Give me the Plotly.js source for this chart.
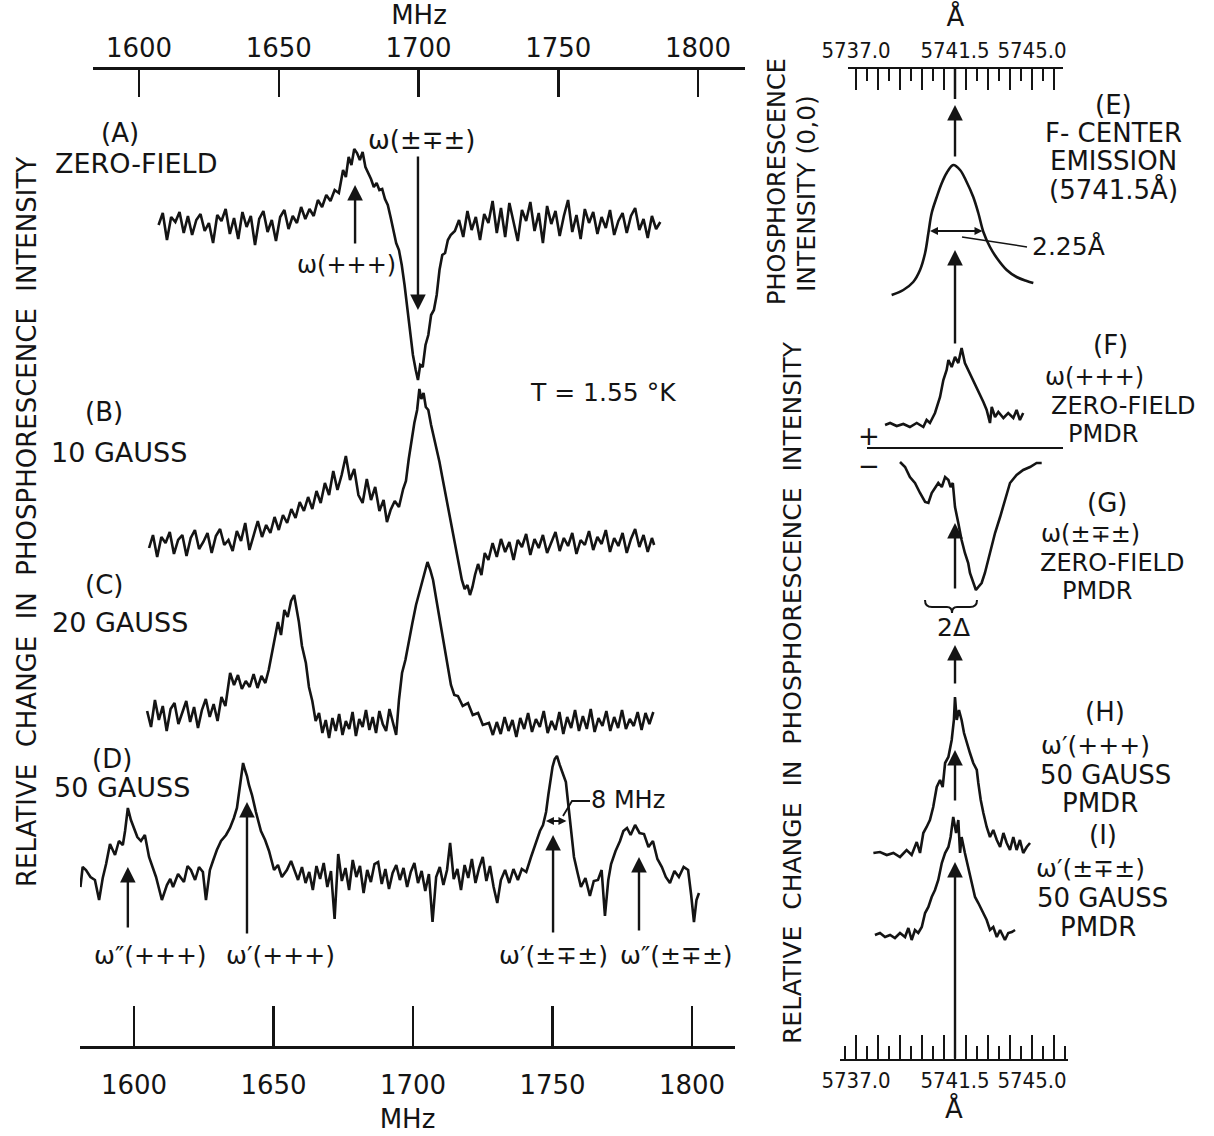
<!DOCTYPE html>
<html><head><meta charset="utf-8">
<script src="https://cdn.plot.ly/plotly-3.0.1.min.js"></script>
<style>html,body{margin:0;padding:0;background:#fff}#chart{width:1214px;height:1136px}</style>
</head><body><div id="chart"></div>
<script>
// ---------------- DATA ----------------
// Left panel: frequency in MHz, relative change in phosphorescence intensity (arbitrary units, + = increase)
const mhzTicks = [1600, 1650, 1700, 1750, 1800];
const mhzTickText = ['1600', '1650', '1700', '1750', '1800'];

// (A) zero field
const aMHz = [1607.0,1608.5,1610.0,1611.5,1613.0,1614.5,1616.0,1617.5,1619.0,1620.5,
  1622.0,1623.5,1625.0,1626.5,1628.0,1629.5,1631.0,1632.5,1634.0,1635.5,
  1637.0,1638.5,1640.0,1641.5,1643.0,1644.5,1646.0,1647.5,1649.0,1650.5,
  1652.0,1653.5,1655.0,1656.5,1658.0,1659.5,1661.0,1662.5,1664.0,1665.5,
  1667.0,1668.5,1670.0,1671.5,1673.0,1674.0,1675.0,1676.0,1677.0,1678.0,
  1679.0,1680.0,1681.0,1682.0,1683.0,1684.0,1685.0,1686.0,1687.0,1688.0,
  1689.0,1690.0,1691.0,1692.0,1693.0,1694.0,1695.0,1696.0,1697.0,1698.0,
  1699.0,1699.8,1700.6,1701.5,1702.5,1703.5,1704.5,1705.5,1706.5,1707.5,
  1708.5,1709.5,1710.5,1711.5,1713.0,1714.5,1716.0,1717.5,1719.0,1720.5,
  1722.0,1723.5,1725.0,1726.5,1728.0,1729.5,1731.0,1732.5,1734.0,1735.5,
  1737.0,1738.5,1740.0,1741.5,1743.0,1744.5,1746.0,1747.5,1749.0,1750.5,
  1752.0,1753.5,1755.0,1756.5,1758.0,1759.5,1761.0,1762.5,1764.0,1765.5,
  1767.0,1768.5,1770.0,1771.5,1773.0,1774.5,1776.0,1777.5,1779.0,1780.5,
  1782.0,1783.5,1785.0,1786.5];
const aVal = [0.0,1.2,-1.5,0.8,0.3,1.3,-0.8,0.9,-1.0,0.5,
  1.1,-0.6,0.2,-1.8,1.0,0.4,1.6,-0.9,0.7,-1.4,
  1.3,-0.2,0.9,-2.0,0.6,1.4,-0.7,0.5,-1.6,0.8,
  1.5,-0.4,0.9,0.2,1.8,0.6,1.6,0.9,2.5,1.8,
  3.0,2.4,3.5,3.2,5.5,4.8,6.8,6.0,7.6,7.2,
  6.5,7.3,5.8,5.2,4.6,3.8,4.2,3.5,3.6,2.6,
  2.0,0.8,-0.5,-1.8,-2.5,-4.0,-6.0,-8.5,-11.0,-13.0,
  -14.5,-15.5,-14.0,-14.2,-12.0,-11.0,-9.0,-8.5,-7.0,-4.5,
  -3.0,-2.8,-1.5,-1.0,-0.6,0.5,-1.2,1.4,-0.5,0.8,
  -1.5,1.1,0.2,2.4,-0.8,1.7,-1.2,2.2,0.3,-1.6,
  1.5,0.4,2.3,-0.6,1.2,-1.8,1.9,0.1,1.4,-1.1,
  0.9,2.5,-0.7,1.0,-1.4,1.6,0.2,1.3,-0.9,0.8,
  -0.3,1.5,-1.0,0.4,1.2,-0.8,0.9,1.7,-0.5,0.6,
  -1.3,0.9,-0.4,0.3];

// (B) 10 gauss
const bMHz = [1603.6,1605.0,1606.5,1608.0,1609.5,1611.0,1612.5,1614.0,1615.5,1617.0,
  1618.5,1620.0,1621.5,1623.0,1624.5,1626.0,1627.5,1629.0,1630.5,1632.0,
  1633.5,1635.0,1636.5,1638.0,1639.5,1641.0,1642.5,1644.0,1645.5,1647.0,
  1648.5,1650.0,1651.5,1653.0,1654.5,1656.0,1657.5,1659.0,1660.5,1662.0,
  1663.5,1665.0,1666.5,1668.0,1669.5,1671.0,1672.5,1674.0,1675.5,1677.0,
  1678.5,1680.0,1681.5,1683.0,1684.5,1686.0,1687.5,1688.7,1690.0,1691.5,
  1693.0,1694.5,1695.5,1696.5,1697.5,1698.5,1699.5,1700.3,1701.0,1701.8,
  1702.6,1703.5,1704.5,1705.5,1706.5,1707.5,1708.5,1709.5,1710.5,1711.5,
  1712.5,1713.5,1714.5,1715.5,1716.5,1717.5,1718.4,1719.3,1720.2,1721.3,
  1722.5,1723.7,1725.0,1726.5,1728.0,1729.5,1731.0,1732.5,1734.0,1735.5,
  1737.0,1738.5,1740.0,1741.5,1743.0,1744.5,1746.0,1747.5,1749.0,1750.5,
  1752.0,1753.5,1755.0,1756.5,1758.0,1759.5,1761.0,1762.5,1764.0,1765.5,
  1767.0,1768.5,1770.0,1771.5,1773.0,1774.5,1776.0,1777.5,1779.0,1780.5,
  1782.0,1783.5,1784.3];
const bVal = [-0.3,1.0,-1.2,0.8,0.2,1.3,-0.9,0.5,1.0,-1.1,
  0.7,1.5,-0.4,0.3,1.2,-0.8,0.9,1.6,0.0,0.5,
  -0.6,1.4,0.4,2.2,-0.5,1.0,2.4,0.8,2.0,1.2,
  2.8,1.5,3.0,2.2,3.6,2.7,4.3,3.4,4.8,3.6,
  5.4,4.2,6.2,5.0,7.4,5.5,7.0,8.9,6.5,7.6,
  5.0,4.2,6.6,4.5,5.8,3.4,4.5,2.3,3.5,4.4,
  3.8,5.6,6.4,8.6,10.5,12.2,13.5,15.6,14.6,15.2,
  13.8,13.5,12.0,10.8,9.5,8.3,6.8,5.3,3.8,2.3,
  0.8,-0.8,-2.2,-3.5,-4.4,-4.0,-5.0,-4.2,-3.0,-1.9,
  -3.0,-0.8,-1.5,0.2,-1.2,0.6,-0.7,0.3,-1.5,0.5,
  -0.2,1.1,-1.0,0.6,-0.3,1.0,-0.8,0.3,1.3,-0.6,
  0.7,-0.1,1.2,-0.9,0.5,0.0,1.4,-0.5,0.8,0.1,
  1.5,-0.7,0.7,-0.1,1.2,-0.8,0.6,1.6,-0.2,1.0,
  -0.7,0.7,0.0];

// (C) 20 gauss
const cMHz = [1602.9,1604.3,1605.7,1607.1,1608.5,1609.9,1611.3,1612.7,1614.1,1615.5,
  1616.9,1618.3,1619.7,1621.1,1622.5,1623.9,1625.3,1626.7,1628.1,1629.5,
  1630.9,1632.6,1634.0,1635.4,1636.8,1638.2,1639.6,1641.0,1642.4,1643.8,
  1645.2,1646.4,1647.4,1648.5,1649.7,1650.8,1652.0,1653.2,1654.4,1655.5,
  1656.4,1657.2,1658.3,1659.7,1660.8,1662.0,1663.2,1664.4,1665.6,1666.8,
  1668.0,1669.2,1670.4,1671.6,1672.8,1674.0,1675.2,1676.4,1677.6,1678.8,
  1680.0,1681.2,1682.4,1683.6,1684.8,1686.0,1687.2,1688.4,1689.6,1690.8,
  1692.0,1693.0,1694.1,1695.3,1696.6,1697.8,1699.1,1700.3,1701.6,1702.5,
  1703.2,1704.2,1705.2,1706.4,1707.7,1708.8,1709.8,1710.8,1711.6,1712.8,
  1714.1,1715.8,1717.7,1719.4,1721.3,1723.0,1725.2,1726.6,1728.0,1729.4,
  1730.8,1732.2,1733.6,1735.0,1736.4,1737.8,1739.2,1740.6,1742.0,1743.4,
  1744.8,1746.2,1747.6,1749.0,1750.4,1751.8,1753.2,1754.6,1756.0,1757.4,
  1758.8,1760.2,1761.6,1763.0,1764.4,1765.8,1767.2,1768.6,1770.0,1771.4,
  1772.8,1774.2,1775.6,1777.0,1778.4,1779.8,1781.2,1782.6,1784.0];
const cVal = [0.4,-1.2,1.5,-0.5,0.9,-1.6,0.6,1.2,-0.9,0.3,
  1.4,-0.7,0.8,-1.3,0.5,1.6,-0.2,1.1,-0.6,1.8,
  0.9,4.2,3.0,4.0,2.6,3.4,2.8,4.1,2.7,3.9,
  3.2,4.5,5.9,7.8,9.3,8.0,10.5,9.8,11.4,12.0,
  10.5,9.3,6.9,5.2,2.8,1.4,-0.6,0.2,-1.8,-0.5,
  -2.3,-0.3,-1.6,0.1,-2.0,-0.6,-1.4,0.3,-2.1,-0.4,
  -1.2,0.5,-1.5,-0.2,-1.8,0.4,-0.9,-1.6,0.6,-0.8,
  -2.0,1.5,4.2,5.5,7.6,9.2,11.0,12.3,13.8,14.8,
  15.3,14.5,13.5,11.5,9.4,7.6,5.7,4.0,3.0,2.0,
  1.9,0.9,1.2,0.0,0.2,-1.0,-0.8,-2.0,-0.7,-1.9,
  -0.2,-1.6,-0.5,-2.2,-0.3,-1.4,0.2,-1.7,-0.4,-1.2,
  0.4,-1.8,-0.6,-1.5,0.3,-1.9,-0.2,-1.3,0.5,-1.6,
  -0.1,-1.4,0.6,-1.7,-0.3,-1.1,0.4,-1.6,-0.2,-1.3,
  0.5,-1.4,-0.4,-1.1,0.3,-1.5,0.2,-0.9,0.3];

// (D) 50 gauss (read on the lower MHz scale)
const dMHz = [1580.8,1581.6,1582.8,1584.4,1586.0,1587.5,1588.8,1590.0,1591.4,1593.2,
  1594.6,1596.0,1596.8,1597.8,1598.9,1600.0,1601.2,1602.5,1603.9,1605.4,
  1606.6,1607.9,1609.0,1610.0,1611.8,1613.0,1614.0,1615.8,1617.9,1619.2,
  1620.4,1621.9,1623.3,1624.7,1625.8,1627.2,1628.3,1629.7,1631.2,1633.0,
  1634.4,1635.8,1636.9,1638.0,1639.1,1639.8,1640.5,1641.2,1642.3,1643.7,
  1645.5,1647.0,1648.4,1650.2,1651.6,1653.0,1654.8,1656.3,1657.7,1658.8,
  1660.2,1661.5,1662.8,1664.1,1665.4,1666.7,1668.0,1669.3,1670.6,1671.9,
  1673.2,1674.5,1675.8,1677.1,1678.4,1679.7,1681.0,1682.3,1683.6,1684.9,
  1686.2,1687.5,1688.8,1690.1,1691.4,1692.7,1694.0,1695.3,1696.6,1697.9,
  1699.2,1700.5,1701.8,1703.1,1704.4,1705.7,1707.0,1708.3,1709.6,1710.9,
  1712.2,1713.3,1714.6,1715.9,1717.2,1718.5,1719.8,1721.1,1722.4,1723.7,
  1725.0,1726.3,1727.6,1728.9,1730.2,1731.5,1733.0,1734.5,1736.0,1737.6,
  1739.0,1740.6,1742.3,1743.8,1745.5,1746.6,1747.7,1748.5,1749.1,1750.0,
  1750.8,1751.6,1752.6,1753.7,1754.8,1755.6,1756.3,1757.0,1757.7,1759.0,
  1760.2,1761.8,1763.4,1764.8,1766.3,1767.6,1768.8,1770.0,1771.0,1772.6,
  1774.2,1775.4,1776.7,1778.0,1779.6,1781.2,1782.8,1784.4,1786.0,1787.6,
  1789.2,1790.6,1792.1,1793.7,1795.3,1797.0,1798.6,1799.7,1800.7,1801.6,
  1802.5];
const dVal = [-1.2,0.8,0.5,-0.2,-0.5,-2.5,-0.3,1.1,3.1,2.0,
  3.4,3.0,4.4,6.7,5.5,4.7,3.8,3.4,4.0,1.8,
  0.8,-0.2,-1.4,-2.5,-1.0,-0.4,-1.2,0.1,-0.7,0.9,
  0.5,-0.5,0.8,0.3,-2.5,0.5,1.4,2.5,3.4,4.0,
  4.7,5.7,6.7,9.0,11.2,10.5,9.9,9.0,8.0,6.3,
  4.4,3.5,2.4,0.5,1.0,-0.2,0.5,1.4,0.3,-0.5,
  0.8,-0.8,0.3,-1.5,0.9,-0.4,1.2,-1.2,0.4,-4.4,
  2.1,-0.6,0.7,-1.5,1.5,-0.2,0.9,-1.8,0.5,-0.7,
  1.1,1.3,-0.9,0.6,-1.4,0.2,1.0,-0.5,0.7,-1.2,
  0.3,1.2,-0.8,0.4,-1.6,0.1,-4.7,-0.2,0.8,-1.0,
  0.5,3.2,-0.4,0.6,-1.5,1.0,-0.3,1.6,-0.8,0.7,
  1.8,-0.6,0.9,-1.2,-2.8,-0.5,0.5,-0.8,0.6,-0.5,
  0.6,0.3,1.8,3.0,4.4,5.0,6.3,8.0,9.3,10.8,
  11.6,11.9,11.0,10.2,9.3,7.2,5.4,3.5,1.8,0.2,
  -1.2,-0.3,-2.1,-0.6,-0.5,0.5,-4.1,-0.5,1.1,2.4,
  3.4,4.4,4.7,4.0,5.0,4.2,4.1,2.8,3.4,1.6,
  0.8,-0.2,-0.8,0.4,-0.2,0.8,0.5,-2.0,-4.7,-2.5,
  -1.8];

// Right panel: wavelength in Å
const angTickVals = [5737.0, 5741.5, 5745.0];
const angTickText = ['5737.0', '5741.5', '5745.0'];

// (E) F-center emission (0,0) line
const eAng = [5738.62,5739.15,5739.60,5739.91,5740.14,5740.29,5740.44,5740.67,5740.90,5741.12,5741.42,
  5741.73,5742.03,5742.33,5742.56,5742.79,5743.09,5743.40,5743.85,5744.30,5744.76,5745.06];
const eVal = [0.5,1.0,1.8,3.0,4.7,6.7,8.7,10.3,11.7,12.7,13.5,
  13.0,11.8,10.3,8.7,6.8,5.3,4.2,3.0,2.3,1.9,1.7];

// (F) w(+++) zero-field PMDR
const fAng = [5738.32,5738.55,5738.85,5739.15,5739.45,5739.76,5740.06,5740.21,5740.36,5740.59,
  5740.82,5740.97,5741.12,5741.20,5741.35,5741.50,5741.65,5741.80,5741.95,5742.10,
  5742.33,5742.56,5742.79,5742.94,5743.09,5743.17,5743.32,5743.47,5743.70,5743.92,
  5744.15,5744.30,5744.45,5744.60];
const fVal = [0.0,0.2,-0.1,0.1,-0.2,0.2,-0.2,0.5,0.2,1.2,
  2.8,4.5,5.5,6.5,5.8,6.8,6.2,7.7,6.2,5.5,
  4.5,3.5,2.3,1.5,0.2,1.8,0.8,1.3,0.7,1.2,
  0.7,1.5,0.5,1.2];

// (G) w(±∓±) zero-field PMDR
const gAng = [5739.00,5739.23,5739.45,5739.68,5739.91,5740.14,5740.29,5740.44,5740.59,5740.74,
  5740.90,5741.05,5741.20,5741.30,5741.40,5741.50,5741.65,5741.80,5741.95,5742.10,
  5742.18,5742.33,5742.45,5742.56,5742.71,5742.86,5743.09,5743.32,5743.55,5743.77,
  5744.00,5744.30,5744.60,5744.91,5745.21,5745.44];
const gVal = [-0.2,-0.7,-1.7,-2.3,-3.3,-4.2,-4.3,-3.3,-2.8,-2.3,
  -2.7,-1.7,-2.0,-2.7,-2.3,-4.7,-6.3,-8.0,-9.3,-10.3,
  -11.3,-12.3,-13.0,-12.7,-12.3,-11.3,-9.3,-7.3,-5.7,-4.0,
  -2.3,-1.5,-1.0,-0.7,-0.3,-0.3];

// (H) w'(+++) 50 gauss PMDR
const hAng = [5737.79,5738.09,5738.40,5738.70,5739.00,5739.30,5739.53,5739.76,5739.91,5740.06,
  5740.21,5740.36,5740.51,5740.67,5740.82,5740.94,5741.05,5741.20,5741.35,5741.45,
  5741.50,5741.58,5741.68,5741.80,5741.91,5742.03,5742.18,5742.33,5742.49,5742.56,
  5742.67,5742.79,5742.94,5743.09,5743.24,5743.40,5743.55,5743.70,5743.85,5744.00,
  5744.15,5744.30,5744.45,5744.60,5744.76,5744.91];
const hVal = [0.0,0.1,-0.2,0.0,-0.4,0.3,-0.2,1.1,0.0,2.0,
  2.6,3.3,4.6,6.6,7.3,6.6,9.0,9.6,11.3,13.3,
  15.6,13.3,14.3,13.3,12.0,11.0,10.0,9.0,8.3,7.0,
  5.3,4.0,2.6,1.6,2.3,1.3,0.6,2.0,1.0,0.3,
  1.6,0.3,1.3,0.0,0.6,1.0];

// (I) w'(±∓±) 50 gauss PMDR
const iAng = [5737.86,5738.09,5738.32,5738.55,5738.77,5739.00,5739.23,5739.38,5739.53,5739.68,
  5739.83,5739.99,5740.14,5740.29,5740.44,5740.59,5740.74,5740.90,5741.05,5741.20,
  5741.30,5741.42,5741.55,5741.65,5741.73,5741.80,5741.95,5742.10,5742.26,5742.41,
  5742.56,5742.71,5742.94,5743.09,5743.24,5743.40,5743.55,5743.77,5743.92,5744.08,
  5744.23];
const iVal = [0.0,0.2,-0.2,0.0,-0.3,0.2,-0.2,0.7,-0.5,0.5,
  0.2,0.8,2.2,2.8,3.8,4.5,5.5,7.2,8.2,8.8,
  9.8,11.8,10.2,11.5,8.2,9.8,8.2,6.8,5.2,3.8,
  3.2,2.5,1.5,0.5,0.8,-0.2,0.5,-0.5,0.2,0.3,
  0.5];

// ---------------- LAYOUT HELPERS ----------------
const W = 1214, H = 1136;
const FONT = 'DejaVu Sans, Liberation Sans, sans-serif';
const FONT_C = 'DejaVu Sans Condensed, DejaVu Sans, sans-serif';
const INK = '#141414';
const px = v => v / W;            // page column -> paper fraction
const py = v => 1 - v / H;        // page row -> paper fraction
const row = v => -v / 10;         // page row -> y units of the shared hidden y axis

function trace(x, vals, baseRow, xa, shape) {
  return {
    type: 'scatter', mode: 'lines', x: x,
    y: vals.map(v => row(baseRow) + v),
    xaxis: xa, yaxis: 'y',
    line: { color: INK, width: 2.6, shape: shape || 'linear' },
    hoverinfo: 'skip', showlegend: false
  };
}

const data = [
  trace(aMHz, aVal, 225, 'x'),
  trace(bMHz, bVal, 545, 'x'),
  trace(cMHz, cVal, 715, 'x'),
  trace(dMHz, dVal, 875, 'x2'),
  trace(eAng, eVal, 300, 'x4', 'spline'),
  trace(fAng, fVal, 425, 'x3'),
  trace(gAng, gVal, 460, 'x3'),
  trace(hAng, hVal, 853, 'x6'),
  trace(iAng, iVal, 935, 'x5')
];

function txt(t, x, y, size, extra) {
  return Object.assign({ text: t, x: px(x), y: py(y), xref: 'paper', yref: 'paper',
    showarrow: false, xanchor: 'center', yanchor: 'middle',
    font: { family: FONT, size: size || 26, color: INK } }, extra || {});
}
function arrow(xa, xv, headRow, tailRow, extra) {
  return Object.assign({ text: '', x: xv, y: row(headRow), xref: xa, yref: 'y',
    ax: 0, ay: tailRow - headRow, axref: 'pixel', ayref: 'pixel',
    showarrow: true, arrowhead: 2, arrowsize: 1.3, arrowwidth: 2.4, arrowcolor: INK,
    standoff: 0, startstandoff: 0 }, extra || {});
}

const annotations = [
  // left panel labels
  txt('RELATIVE  CHANGE  IN  PHOSPHORESCENCE  INTENSITY', 27, 522, 26, { textangle: -90 }),
  txt('(A)', 120, 133), txt('ZERO-FIELD', 136, 163, 27),
  txt('ω(±∓±)', 421, 140, 26),
  txt('ω(+++)', 346, 265, 24),
  txt('T = 1.55 °K', 603, 392, 25),
  txt('(B)', 104, 412), txt('10 GAUSS', 119, 452, 27),
  txt('(C)', 104, 585), txt('20 GAUSS', 120, 622, 27),
  txt('(D)', 112, 759), txt('50 GAUSS', 122, 787, 27),
  txt('8 MHz', 628, 800, 24),
  txt('ω″(+++)', 150, 955, 25), txt('ω′(+++)', 280, 955, 25),
  txt('ω′(±∓±)', 553, 955, 25), txt('ω″(±∓±)', 676, 955, 25),
  // right panel labels
  txt('PHOSPHORESCENCE', 777, 182, 24, { textangle: -90 }),
  txt('INTENSITY (0,0)', 806, 194, 25, { textangle: -90 }),
  txt('RELATIVE  CHANGE  IN  PHOSPHORESCENCE  INTENSITY', 792, 692, 25, { textangle: -90 }),
  txt('(E)', 1113, 105), txt('F- CENTER', 1113, 133), txt('EMISSION', 1113, 161), txt('(5741.5Å)', 1113, 190),
  txt('2.25Å', 1068, 246, 25),
  txt('(F)', 1110, 345), txt('ω(+++)', 1094, 377, 24), txt('ZERO-FIELD', 1123, 406, 24), txt('PMDR', 1103, 434, 24),
  txt('+', 869, 436, 26), txt('−', 869, 466, 26),
  txt('(G)', 1107, 503), txt('ω(±∓±)', 1090, 534, 24), txt('ZERO-FIELD', 1112, 563, 24), txt('PMDR', 1097, 591, 24),
  txt('2Δ', 953, 627, 25),
  txt('(H)', 1105, 712), txt('ω′(+++)', 1095, 745, 25), txt('50 GAUSS', 1105, 775), txt('PMDR', 1100, 803),
  txt('(I)', 1103, 835), txt('ω′(±∓±)', 1090, 868, 25), txt('50 GAUSS', 1102, 898), txt('PMDR', 1098, 927),
  // arrows, left
  arrow('x', 1677.3, 185, 245),
  arrow('x', 1699.8, 310, 155),
  arrow('x2', 1597.8, 867, 929),
  arrow('x2', 1640.5, 802, 935),
  arrow('x2', 1750.2, 835, 934),
  arrow('x2', 1781.0, 857, 932),
  // 8 MHz width marker
  arrow('x2', 1755.0, 821, 821, { ax: -22, ay: 0, arrowside: 'end+start', arrowhead: 2, arrowsize: 0.8, arrowwidth: 2 }),
  // arrows, right
  arrow('x3', 5741.5, 105, 158),
  arrow('x3', 5741.5, 250, 345),
  arrow('x3', 5741.5, 523, 590),
  arrow('x3', 5741.5, 645, 685),
  arrow('x3', 5741.5, 750, 802),
  arrow('x3', 5741.5, 862, 1060),
  // 2.25 Å width marker on E
  arrow('x3', 5742.75, 231, 231, { ax: -54, ay: 0, arrowside: 'end+start', arrowhead: 2, arrowsize: 0.8, arrowwidth: 2 })
];

const shapes = [
  // zero line between F (+) and G (-)
  { type: 'line', xref: 'paper', yref: 'paper', x0: px(867), x1: px(1063), y0: py(448), y1: py(448), line: { color: INK, width: 2.2 } },
  // long centre tick on the upper Å scale
  { type: 'line', xref: 'paper', yref: 'paper', x0: px(955), x1: px(955), y0: py(68), y1: py(99), line: { color: INK, width: 2.5 } },
  // leader for 2.25 Å
  { type: 'line', xref: 'paper', yref: 'paper', x0: px(1027), x1: px(962), y0: py(247), y1: py(237), line: { color: INK, width: 1.5 } },
  // leader for 8 MHz
  { type: 'path', xref: 'paper', yref: 'paper',
    path: `M${px(563)},${py(816)} L${px(572)},${py(801)} L${px(590)},${py(801)}`, line: { color: INK, width: 1.8 } },
  // 2Δ bracket
  { type: 'path', xref: 'paper', yref: 'paper',
    path: `M${px(925)},${py(600)} Q${px(925)},${py(607)} ${px(932)},${py(607)} L${px(947)},${py(607)} Q${px(952)},${py(607)} ${px(952)},${py(613)} Q${px(952)},${py(607)} ${px(957)},${py(607)} L${px(970)},${py(607)} Q${px(977)},${py(607)} ${px(977)},${py(600)}`,
    line: { color: INK, width: 2 } }
];

const axFont = { family: FONT, size: 26, color: INK };
const angFont = { family: FONT_C, size: 22, color: INK };
const common = { showgrid: false, zeroline: false, fixedrange: true, automargin: false, color: INK };

const layout = {
  width: W, height: H,
  margin: { l: 0, r: 0, t: 0, b: 0, pad: 0 },
  paper_bgcolor: '#ffffff', plot_bgcolor: 'rgba(0,0,0,0)',
  font: { family: FONT, color: INK, size: 24 },
  showlegend: false,
  yaxis: { domain: [0, 1], range: [-113.6, 0], visible: false, fixedrange: true },
  // upper MHz scale
  xaxis: Object.assign({}, common, {
    domain: [px(93), px(745)], range: [1583.54, 1816.8],
    anchor: 'free', position: py(68), side: 'top',
    showline: true, linecolor: INK, linewidth: 2.5,
    ticks: 'inside', ticklen: 27, tickwidth: 2.5, tickcolor: INK,
    tickmode: 'array', tickvals: mhzTicks, ticktext: mhzTickText, tickangle: 0,
    tickfont: axFont, ticklabelstandoff: 0,
    title: { text: 'MHz', font: axFont, standoff: 0 }
  }),
  // lower MHz scale
  xaxis2: Object.assign({}, common, {
    domain: [px(80), px(735)], range: [1580.65, 1815.41],
    anchor: 'free', position: py(1047), side: 'bottom',
    showline: true, linecolor: INK, linewidth: 2.5,
    ticks: 'inside', ticklen: 40, tickwidth: 2.5, tickcolor: INK,
    tickmode: 'array', tickvals: mhzTicks, ticktext: mhzTickText, tickangle: 0,
    tickfont: axFont, ticklabelstandoff: 14,
    title: { text: 'MHz', font: axFont, standoff: 10 }
  }),
  // upper Å scale: tick marks
  xaxis3: Object.assign({}, common, {
    domain: [px(848), px(1063)], range: [5736.636, 5746.409],
    anchor: 'free', position: py(68), side: 'top',
    showline: true, linecolor: INK, linewidth: 2,
    ticks: 'inside', tickmode: 'linear', tick0: 5737, dtick: 1, ticklen: 21, tickwidth: 2, tickcolor: INK,
    minor: { ticks: 'inside', dtick: 0.5, ticklen: 12, tickwidth: 2, tickcolor: INK },
    showticklabels: false
  }),
  // upper Å scale: labels
  xaxis4: Object.assign({}, common, {
    overlaying: 'x3', range: [5736.636, 5746.409],
    anchor: 'free', position: py(68), side: 'top',
    showline: false, ticks: '', tickmode: 'array', tickvals: angTickVals, ticktext: angTickText, tickangle: 0,
    tickfont: angFont, ticklabelstandoff: 6,
    title: { text: 'Å', font: axFont, standoff: 2 }
  }),
  // lower Å scale: tick marks
  xaxis5: Object.assign({}, common, {
    domain: [px(840), px(1068)], range: [5736.273, 5746.636],
    anchor: 'free', position: py(1060), side: 'bottom',
    showline: true, linecolor: INK, linewidth: 2,
    ticks: 'inside', tickmode: 'linear', tick0: 5737, dtick: 1, ticklen: 24, tickwidth: 2, tickcolor: INK,
    minor: { ticks: 'inside', dtick: 0.5, ticklen: 13, tickwidth: 2, tickcolor: INK },
    showticklabels: false
  }),
  // lower Å scale: labels
  xaxis6: Object.assign({}, common, {
    overlaying: 'x5', range: [5736.273, 5746.636],
    anchor: 'free', position: py(1060), side: 'bottom',
    showline: false, ticks: '', tickmode: 'array', tickvals: angTickVals, ticktext: angTickText, tickangle: 0,
    tickfont: angFont, ticklabelstandoff: 5,
    title: { text: 'Å', font: axFont, standoff: 6 }
  }),
  annotations: annotations,
  shapes: shapes
};

Plotly.newPlot('chart', data, layout, { staticPlot: true, displayModeBar: false });
</script></body></html>
